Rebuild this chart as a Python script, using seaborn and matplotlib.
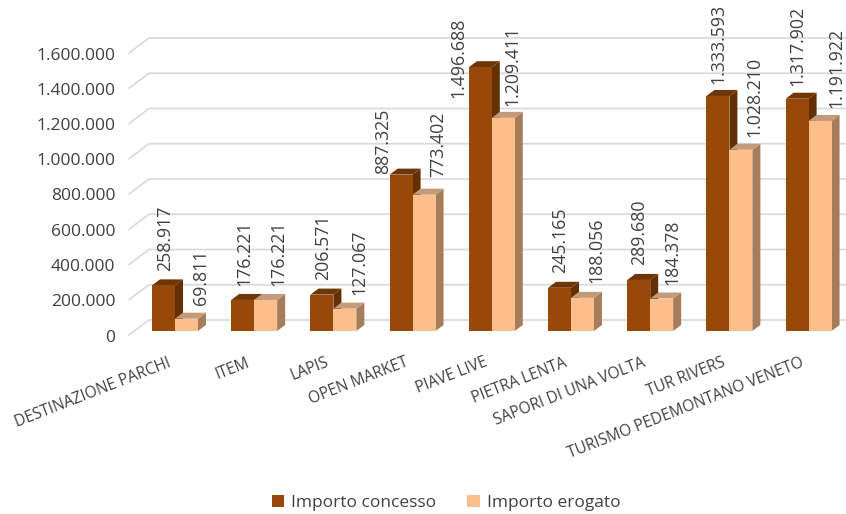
import matplotlib
matplotlib.use("Agg")
import matplotlib.pyplot as plt
from matplotlib.patches import Polygon
from matplotlib.transforms import ScaledTranslation
import pandas as pd
import seaborn as sns

categories = ["DESTINAZIONE PARCHI", "ITEM", "LAPIS", "OPEN MARKET", "PIAVE LIVE",
              "PIETRA LENTA", "SAPORI DI UNA VOLTA", "TUR RIVERS",
              "TURISMO PEDEMONTANO VENETO"]
concesso = [258917, 176221, 206571, 887325, 1496688, 245165, 289680, 1333593, 1317902]
erogato = [69811, 176221, 127067, 773402, 1209411, 188056, 184378, 1028210, 1191922]
series_names = ["Importo concesso", "Importo erogato"]
y_ticks = [0, 200000, 400000, 600000, 800000, 1000000, 1200000, 1400000, 1600000]

# label offsets from bar top-centre, in pixels (right, up)
offsets_concesso = [(1.5, 14.4), (1.3, 13.9), (1.1, 14.6), (-18, 0.6), (-22.3, -30.8),
                    (0.5, 14.8), (0.3, 14.9), (0.1, 12), (0, 12.7)]
offsets_erogato = [(14.5, 13.7), (12.3, 13.9), (14.1, 13.6), (13.9, 17.7), (8.7, 11.8),
                   (13.5, 14.9), (10.3, 13.5), (13.1, 12.8), (15.9, 12.9)]

W, H = 846, 514
FONT = "Open Sans"
TEXT = "#404040"
GRID = "#D9D9D9"
front = ["#984807", "#FCBF8C"]
side = ["#632F05", "#A67C5B"]
top = ["#6E3505", "#C49A78"]

X_STEP = 79.2          # px per category
Y_SCALE = 282 / 1600000  # px per unit
LEFT, ZERO_Y = 135.4, 331

sns.set_theme(style="white")
plt.rcParams["font.family"] = [FONT, "DejaVu Sans"]

fig = plt.figure(figsize=(W / 100, H / 100), dpi=100)
ax = fig.add_axes([LEFT / W, (H - ZERO_Y) / H, (W - LEFT) / W, ZERO_Y / H])

df = pd.DataFrame({
    "categoria": categories * 2,
    "serie": [series_names[0]] * len(categories) + [series_names[1]] * len(categories),
    "importo": concesso + erogato,
})
sns.barplot(data=df, x="categoria", y="importo", hue="serie", order=categories,
            hue_order=series_names, palette=front, width=0.58, gap=0, saturation=1,
            linewidth=0, ax=ax)

ax.set_xlim(-0.5, (W - LEFT) / X_STEP - 0.5)
ax.set_ylim(0, ZERO_Y / Y_SCALE)
sns.despine(ax=ax, left=True, bottom=True)
ax.set_xlabel("")
ax.set_ylabel("")

px_x, px_y = 1 / X_STEP, 1 / Y_SCALE

# back wall gridlines
for v in y_ticks:
    ax.plot([-6.4 * px_x + -0.5, 13.6 * px_x - 0.5, (W - LEFT) / X_STEP - 0.5],
            [v - 4 * px_y, v + 11 * px_y, v + 11 * px_y],
            color=GRID, lw=1.2, clip_on=False, zorder=1)

# 3D depth faces, derived from the bars seaborn drew
DX, DY = 8 * px_x, 6 * px_y
for s, cont in enumerate(ax.containers):
    for rect in cont.patches:
        x0, w, h = rect.get_x(), rect.get_width(), rect.get_height()
        x1 = x0 + w
        z = 3 + s * 0.2
        ax.add_patch(Polygon([(x1, 0), (x1 + DX, DY), (x1 + DX, h + DY), (x1, h)],
                             closed=True, fc=side[s], ec="none", zorder=z, clip_on=False))
        ax.add_patch(Polygon([(x0, h), (x0 + DX, h + DY), (x1 + DX, h + DY), (x1, h)],
                             closed=True, fc=top[s], ec="none", zorder=z, clip_on=False))
        rect.set_zorder(z + 0.1)

# data labels
all_offsets = [offsets_concesso, offsets_erogato]
for s, cont in enumerate(ax.containers):
    for rect, (ox, oy) in zip(cont.patches, all_offsets[s]):
        h = rect.get_height()
        ax.annotate(f"{int(h):,}".replace(",", "."),
                    xy=(rect.get_x() + rect.get_width() / 2, h),
                    xytext=(ox * 0.72, oy * 0.72), textcoords="offset points",
                    rotation=90, ha="center", va="bottom", fontsize=12.8, color=TEXT,
                    fontfamily=FONT, zorder=6, annotation_clip=False)

# axes text
ax.set_yticks(y_ticks)
ax.set_yticklabels([f"{v:,}".replace(",", ".") for v in y_ticks], fontsize=12.5,
                   color=TEXT, fontfamily=FONT)
ax.tick_params(axis="y", length=0, pad=14.5)
shift = ScaledTranslation(0, -0.045, fig.dpi_scale_trans)
for lab in ax.get_yticklabels():
    lab.set_transform(lab.get_transform() + shift)

ax.set_xticks(range(len(categories)))
ax.set_xticklabels(categories, rotation=21.4, ha="right", rotation_mode="anchor",
                   fontsize=11.2, color=TEXT, fontfamily=FONT)
ax.tick_params(axis="x", length=0, pad=16)
xshift = ScaledTranslation(-0.08, -0.015, fig.dpi_scale_trans)
for lab in ax.get_xticklabels():
    lab.set_transform(lab.get_transform() + xshift)

handles, labels = ax.get_legend_handles_labels()
ax.get_legend().remove()
fig.legend(handles, labels, loc="center", bbox_to_anchor=(446 / W, 1 - 503 / H), ncols=2,
           frameon=False, fontsize=12.5, handlelength=0.72, handleheight=0.72,
           handletextpad=0.4, columnspacing=1.8, labelcolor=TEXT, borderpad=0)

fig.savefig("out.png", dpi=100)
